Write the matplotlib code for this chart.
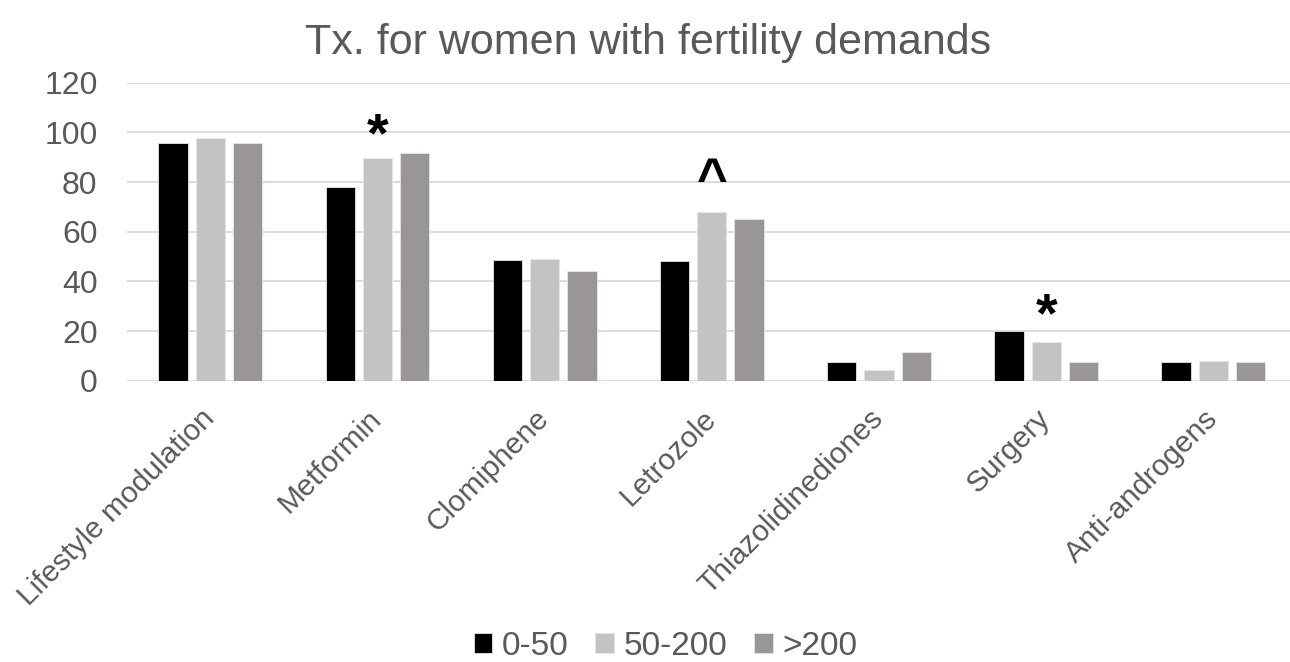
import numpy as np
import matplotlib
matplotlib.use("Agg")
from matplotlib import pyplot as plt

categories = ["Lifestyle modulation", "Metformin", "Clomiphene", "Letrozole",
              "Thiazolidinediones", "Surgery", "Anti-androgens"]
series_names = ["0-50", "50-200", ">200"]
low = [95.7, 77.9, 48.7, 48.4, 7.5, 20.0, 7.5]
mid = [97.8, 89.7, 48.9, 68.1, 4.3, 15.6, 7.9]
high = [95.7, 91.5, 44.2, 65.2, 11.5, 7.4, 7.4]
mark_cats = ["Metformin", "Letrozole", "Surgery"]
mark_syms = ["*", "^", "*"]
title = "Tx. for women with fertility demands"

colors = ["#000000", "#c4c3c3", "#9a9695"]
text_col = "#595959"
grid_col = "#d9d9d9"

plt.rcParams['font.family'] = ['Liberation Sans', 'DejaVu Sans']

fig = plt.figure(figsize=(12.9, 6.62), dpi=100)
ax = fig.add_axes([0.0982, 0.4249, 0.9072, 0.4502])

x = np.arange(len(categories))
width = 0.175
step = 0.223
for i, vals in enumerate([low, mid, high]):
    ax.bar(x + (i - 1) * step, vals, width, color=colors[i], label=series_names[i],
           edgecolor="#e6e6e6", linewidth=0.6, zorder=3)

# significance marks over the middle bar (gap above bar set by eye)
gaps = [8.2, 12.0, 10.0]
sizes = [40, 38, 40]
for cat, sym, gap, fs in zip(mark_cats, mark_syms, gaps, sizes):
    k = categories.index(cat)
    ax.text(x[k], mid[k] + gap, sym, ha="center", va="center", fontsize=fs,
            fontweight="bold", color="black")

ax.set_xlim(-0.5, len(categories) - 0.5)
ax.set_ylim(0, 120)
ax.set_yticks(range(0, 121, 20))
ax.yaxis.grid(True, color=grid_col, linewidth=1.3, zorder=0)
ax.set_axisbelow(True)
for s in ax.spines.values():
    s.set_visible(False)
ax.tick_params(axis="both", length=0, labelcolor=text_col)
ax.tick_params(axis="y", pad=21, labelsize=23)
ax.set_xticks(x)
ax.set_xticklabels(categories, rotation=45, ha="right", va="center",
                   rotation_mode="anchor", fontsize=21.5)
ax.tick_params(axis="x", pad=24)

fig.text(0.502, 0.935, title, ha="center", va="center", fontsize=31, color=text_col)

leg = fig.legend(loc="center", bbox_to_anchor=(0.516, 0.024), ncol=3, frameon=False,
                 fontsize=24, handlelength=0.55, handleheight=0.55,
                 handletextpad=0.3, columnspacing=0.8, labelcolor=text_col)

fig.savefig("out.png", dpi=100)
